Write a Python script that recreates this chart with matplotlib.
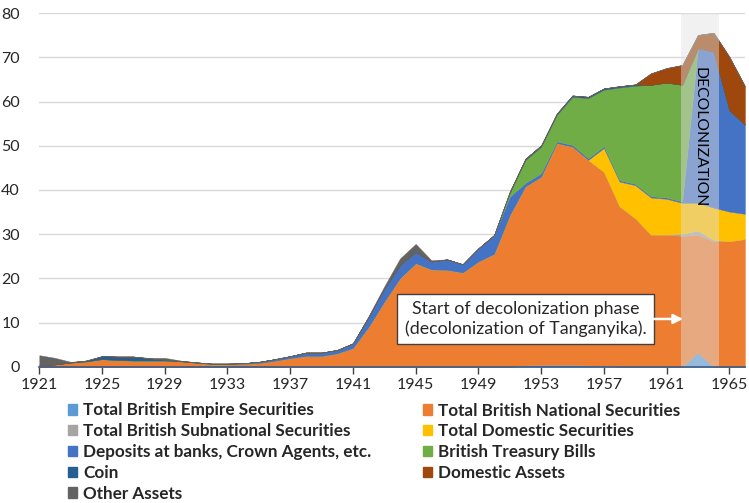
import matplotlib
matplotlib.use("Agg")
import matplotlib.pyplot as plt
from matplotlib.patches import Patch
import numpy as np

plt.rcParams['font.family'] = ['Lato', 'DejaVu Sans']

years = np.arange(1921, 1967)

# stacked series, bottom to top
empire = [0] * 31 + [0.3, 0.4, 0.4, 0.4, 0.3, 0.2, 0, 0, 0, 0, 0, 3.2, 0, 0, 0]
national = [0.4, 0.5, 0.9, 1.2, 1.7, 1.5, 1.4, 1.4, 1.4, 1.2,
            0.9, 0.5, 0.5, 0.6, 0.8, 1.3, 1.9, 2.4, 2.4, 3.0,
            4.2, 9.0, 14.7, 20.0, 23.4, 22.0, 21.9, 21.3, 23.8, 25.5,
            34.3, 40.5, 42.6, 50.2, 49.4, 46.5, 43.9, 36.3, 33.6, 29.9,
            29.9, 29.6, 26.7, 28.4, 28.4, 28.9]
subnational = [0] * 41 + [0.5, 0.9, 0.3, 0, 0]
domestic_sec = [0] * 36 + [5.4, 5.6, 7.5, 8.4, 8.1, 7.0, 6.3, 7.3, 6.7, 5.7]
deposits = [0] * 11 + [0.2, 0.2, 0.2, 0.3, 0.4, 0.5, 0.8, 0.8, 0.8,
                       1.1, 2.3, 3.0, 3.0, 2.6, 1.8, 2.4, 1.9, 3.0, 4.3,
                       4.2, 0.8, 0.8, 0.4, 0.4, 0.4, 0.4, 0.3, 0.3, 0.3,
                       0.3, 0.3, 35.0, 35.3, 22.9, 20.2]
tbills = [0] * 30 + [0.8, 5.2, 6.0, 6.0, 10.9, 13.6, 12.8, 21.0, 22.2, 25.2,
                     26.0, 26.4, 0, 0, 0, 0]
coin = [0, 0, 0.1, 0.2, 0.7, 0.8, 0.9, 0.5, 0.2, 0.1, 0.1] + [0] * 19 + \
       [0.3] * 9 + [0] * 7
dom_assets = [0] * 39 + [2.6, 3.3, 4.5, 3.0, 4.3, 12.2, 8.7]
other = [2.2, 1.5, 0.1, 0, 0, 0, 0, 0.1, 0.4, 0.1] + [0] * 11 + \
        [0.2, 0.5, 1.5, 1.8, 0.3] + [0] * 20

labels = ['Total British Empire Securities', 'Total British National Securities',
          'Total British Subnational Securities', 'Total Domestic Securities',
          'Deposits at banks, Crown Agents, etc.', 'British Treasury Bills',
          'Coin', 'Domestic Assets', 'Other Assets']
colors = ['#5B9BD5', '#ED7D31', '#A5A5A5', '#FFC000', '#4472C4',
          '#70AD47', '#255E91', '#9E480E', '#636363']

fig = plt.figure(figsize=(7.49, 5.03), dpi=100)
ax = fig.add_axes([0.0525, 0.271, 0.9421, 0.7026])

series = [empire, national, subnational, domestic_sec, deposits,
          tbills, coin, dom_assets, other]
polys = ax.stackplot(years, *series, colors=colors, linewidth=0.3, zorder=2)
for p, c in zip(polys, colors):
    p.set_edgecolor(c)

# decolonization band
ax.axvspan(1961.93, 1964.33, color='#e0e0e0', alpha=0.45, lw=0, zorder=3)
ax.text(1963.1, 51.9, 'DECOLONIZATION', rotation=270, ha='center', va='center',
        fontsize=11.3, color='black', zorder=5)

# annotation box + arrow
ax.text(1952.0, 10.8, 'Start of decolonization phase\n(decolonization of Tanganyika).',
        ha='center', va='center', fontsize=12.8, color='#262626', linespacing=1.25,
        zorder=6,
        bbox=dict(boxstyle='square,pad=0.42', fc='white', ec='#404040', lw=1))
ax.annotate('', xy=(1962.05, 10.8), xytext=(1960.2, 10.8),
            arrowprops=dict(arrowstyle='-|>', color='white', lw=1.8,
                            mutation_scale=14, shrinkA=0, shrinkB=0), zorder=6)

ax.set_xlim(1921, 1966)
ax.set_ylim(0, 80)
ax.set_yticks(range(0, 81, 10))
ax.set_xticks(range(1921, 1966, 4))
ax.grid(axis='y', color='#d9d9d9', lw=1, zorder=0)
ax.set_axisbelow(True)
for s in ['top', 'right', 'left']:
    ax.spines[s].set_visible(False)
ax.spines['bottom'].set_color('#3b5a86')
ax.spines['bottom'].set_linewidth(1.2)
ax.spines['bottom'].set_zorder(7)
ax.tick_params(axis='y', length=0, pad=14, labelsize=11.5, labelcolor='#262626')
ax.tick_params(axis='x', length=5, width=1, color='#404040', pad=3,
               labelsize=11.5, labelcolor='#262626')

# legend, two columns
handles = [Patch(color=c) for c in colors]
col1 = [0, 2, 4, 6, 8]
col2 = [1, 3, 5, 7]
for idx, x0 in [(col1, 68 / 749), (col2, 423 / 749)]:
    leg = fig.legend([handles[i] for i in idx], [labels[i] for i in idx],
                     loc='upper left', bbox_to_anchor=(x0, 1 - 402.5 / 503),
                     frameon=False, borderpad=0, borderaxespad=0,
                     handlelength=0.55, handleheight=0.55, handletextpad=0.35,
                     labelspacing=0.28, prop={'weight': 'bold', 'size': 12.3})
    for t in leg.get_texts():
        t.set_color('#262626')

fig.savefig('out.png', dpi=100)
